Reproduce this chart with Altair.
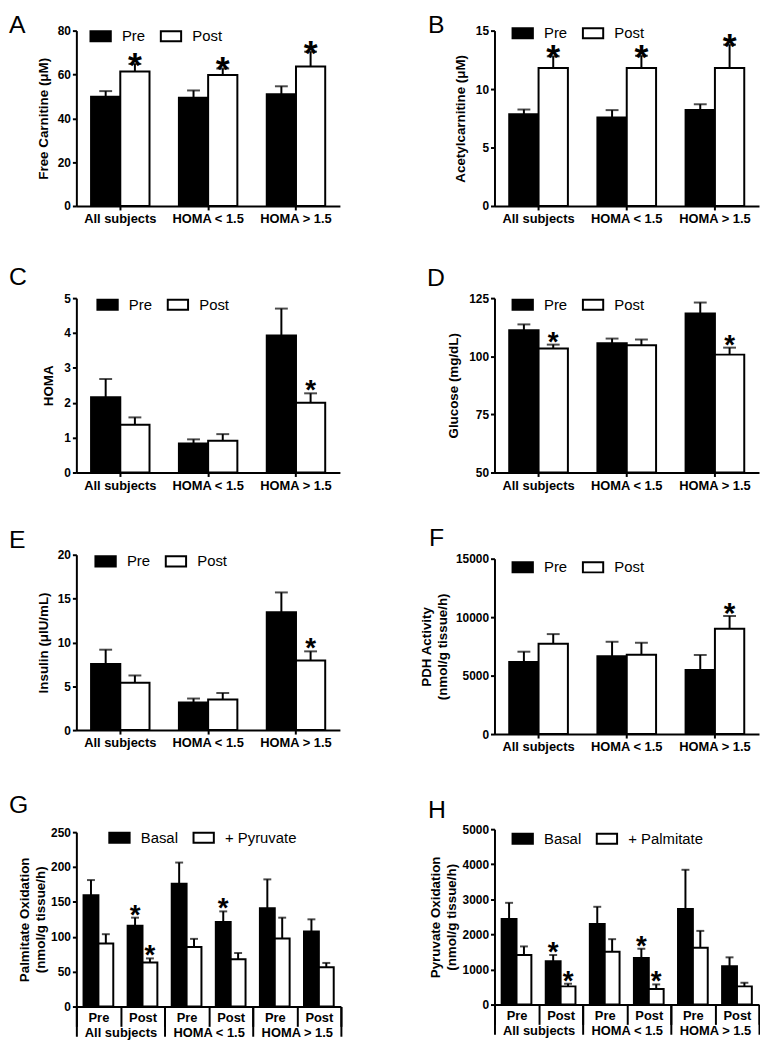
import altair as alt
import pandas as pd

FONT = "Liberation Sans"

GROUPS = ["All subjects", "HOMA < 1.5", "HOMA > 1.5"]
PREPOST = ["Pre", "Post"]

# A: Free carnitine (uM)
carn_pre = [49.8, 49.4, 51.0]
carn_pre_sem = [2.6, 3.3, 3.6]
carn_post = [61.3, 59.7, 63.6]
carn_post_sem = [3.5, 3.0, 6.8]
carn_sig = ["*", "*", "*"]

# B: Acetylcarnitine (uM)
acet_pre = [7.85, 7.57, 8.2]
acet_pre_sem = [0.4, 0.63, 0.5]
acet_post = [11.8, 11.8, 11.8]
acet_post_sem = [1.0, 1.05, 2.0]
acet_sig = ["*", "*", "*"]

# C: HOMA
homa_pre = [2.16, 0.83, 3.93]
homa_pre_sem = [0.52, 0.12, 0.77]
homa_post = [1.37, 0.91, 2.0]
homa_post_sem = [0.21, 0.19, 0.27]
homa_sig = ["", "", "*"]

# D: Glucose (mg/dL)
glu_pre = [111.2, 105.6, 118.4]
glu_pre_sem = [2.5, 2.0, 4.7]
glu_post = [103.3, 104.7, 100.7]
glu_post_sem = [1.7, 2.5, 3.0]
glu_sig = ["*", "", "*"]

# E: Insulin (uIU/mL)
ins_pre = [7.55, 3.14, 13.44]
ins_pre_sem = [1.62, 0.46, 2.26]
ins_post = [5.4, 3.48, 7.93]
ins_post_sem = [0.83, 0.75, 1.05]
ins_sig = ["", "", "*"]

# F: PDH activity
pdh_pre = [6170, 6655, 5490]
pdh_pre_sem = [875, 1240, 1275]
pdh_post = [7725, 6790, 9000]
pdh_post_sem = [825, 1020, 1100]
pdh_sig = ["", "", "*"]

# G: Palmitate oxidation (All Pre, All Post, <1.5 Pre, <1.5 Post, >1.5 Pre, >1.5 Post)
palm_basal = [159.6, 116.0, 176.0, 121.2, 141.0, 107.5]
palm_basal_sem = [21.7, 11.4, 30.4, 15.2, 41.3, 17.5]
palm_basal_sig = ["", "*", "", "*", "", ""]
palm_pyr = [90.4, 63.0, 85.2, 67.7, 97.5, 56.3]
palm_pyr_sem = [13.3, 6.0, 11.8, 9.0, 29.9, 6.2]
palm_pyr_sig = ["", "*", "", "", "", ""]

# H: Pyruvate oxidation
pyr_basal = [2439, 1233, 2298, 1328, 2721, 1092]
pyr_basal_sem = [461, 179, 489, 263, 1121, 254]
pyr_basal_sig = ["", "*", "", "*", "", ""]
pyr_palm = [1412, 518, 1507, 443, 1620, 518]
pyr_palm_sem = [245, 75, 357, 131, 480, 103]
pyr_palm_sig = ["", "*", "", "*", "", ""]

CATS6 = [f"{g}|{p}" for g in GROUPS for p in PREPOST]


def simple_df(pre, pre_sem, post, post_sem, sig):
    rows = []
    for i, g in enumerate(GROUPS):
        rows.append(dict(cat=g, series="Pre", mean=pre[i], upper=pre[i] + pre_sem[i], sig=""))
        rows.append(dict(cat=g, series="Post", mean=post[i], upper=post[i] + post_sem[i], sig=sig[i]))
    return pd.DataFrame(rows)


def two_df(s1, v1, e1, g1, s2, v2, e2, g2):
    rows = []
    for i, c in enumerate(CATS6):
        rows.append(dict(cat=c, series=s1, mean=v1[i], upper=v1[i] + e1[i], sig=g1[i]))
        rows.append(dict(cat=c, series=s2, mean=v2[i], upper=v2[i] + e2[i], sig=g2[i]))
    return pd.DataFrame(rows)


def spacer(x, y):
    return alt.Chart(pd.DataFrame({"t": ["."]})).mark_text(
        fontSize=1, opacity=0, x=x, y=y).encode(text="t:N")


def panel(df, cats, series, letter, lxy, ytitle, ydom, yvals, tpad, leg_xy,
          star_size, star_dy, cap, xoff_pad, space, two_level=False, W=266, H=177):
    xscale = alt.Scale(domain=cats, paddingInner=0, paddingOuter=0)
    if two_level:
        xaxis = alt.Axis(title=None, orient="bottom", labelAngle=0,
                         labelExpr="split(datum.label, '|')[1]",
                         tickBand="extent", tickSize=20, labelPadding=-15,
                         labelFontSize=13)
    else:
        xaxis = alt.Axis(title=None, orient="bottom", labelAngle=0, tickSize=4, labelPadding=3,
                         labelFontSize=13)
    X = alt.X("cat:N", scale=xscale, axis=xaxis, sort=cats)
    XO = alt.XOffset("series:N", sort=series,
                     scale=alt.Scale(domain=series, paddingInner=0, paddingOuter=xoff_pad))
    yscale = alt.Scale(domain=ydom, nice=False, zero=False)
    yaxis = alt.Axis(title=ytitle, values=yvals, format="d", titlePadding=tpad,
                     grid=False, tickSize=4, titleLineHeight=16)

    def Y(field):
        return alt.Y(field, scale=yscale, axis=yaxis)

    base = alt.Chart(df)
    err = base.mark_rule(color="black", strokeWidth=2).encode(
        x=X, xOffset=XO, y=Y("mean:Q"), y2="upper:Q")
    bars = base.mark_bar(stroke="black", strokeWidth=2).encode(
        x=X, xOffset=XO, y=Y("mean:Q"), y2=alt.datum(ydom[0]),
        fill=alt.Fill("series:N", sort=series,
                      scale=alt.Scale(domain=series, range=["black", "white"]),
                      legend=alt.Legend(orient="none", legendX=leg_xy[0], legendY=leg_xy[1],
                                        direction="horizontal", title=None,
                                        symbolType="M-1,-0.5H1V0.5H-1Z", symbolSize=420,
                                        symbolStrokeColor="black", symbolStrokeWidth=2,
                                        labelFont=FONT, labelFontSize=15, labelOffset=10,
                                        columnPadding=11, padding=0, labelColor="black")))
    caps = base.mark_tick(color="black", thickness=2, size=cap).encode(
        x=X, xOffset=XO, y=Y("upper:Q"))
    stars = base.mark_text(fontSize=star_size, fontWeight="bold", baseline="alphabetic",
                           dy=star_dy, font=FONT, color="black").encode(
        x=X, xOffset=XO, y=Y("upper:Q"), text="sig:N")
    data_layers = alt.layer(err, bars, caps, stars)
    lab = alt.Chart(pd.DataFrame({"t": [letter]})).mark_text(
        align="left", baseline="alphabetic", fontSize=25, font=FONT, color="black",
        x=lxy[0], y=lxy[1]).encode(text="t:N")
    # invisible anchors fixing the panel's bounding box (layout only)
    sp = [spacer(space[0], -space[1]), spacer(space[2], H + space[3])]
    layers = [data_layers, lab] + sp
    if two_level:
        glayer = alt.Chart(pd.DataFrame({"grp": GROUPS})).mark_text(text=" ", opacity=0).encode(
            x=alt.X("grp:N", sort=GROUPS,
                    scale=alt.Scale(domain=GROUPS, paddingInner=0, paddingOuter=0),
                    axis=alt.Axis(orient="bottom", title=None, domain=False, tickBand="extent",
                                  tickSize=30, labelPadding=-10, labelAngle=0,
                                  labelFontSize=13)))
        layers.append(glayer)
        ch = alt.layer(*layers).resolve_scale(x="independent")
    else:
        ch = alt.layer(*layers)
    return ch.properties(width=W, height=H)


# space = (left x, top margin, right x, bottom margin)
pA = panel(simple_df(carn_pre, carn_pre_sem, carn_post, carn_post_sem, carn_sig), GROUPS, PREPOST,
           "A", (-68, 2), "Free  Carnitine (\u03bcM)", [0, 80], [0, 20, 40, 60, 80], 7, (13, -6),
           36, 13, 13, 0.503, (-68, 17, 270, 52))
pB = panel(simple_df(acet_pre, acet_pre_sem, acet_post, acet_post_sem, acet_sig), GROUPS, PREPOST,
           "B", (-67, 2), "Acetylcarnitine (\u03bcM)", [0, 15], [0, 5, 10, 15], 8, (17, -9),
           36, 13, 13, 0.503, (-90, 17, 0, 52), W=267)
pC = panel(simple_df(homa_pre, homa_pre_sem, homa_post, homa_post_sem, homa_sig), GROUPS, PREPOST,
           "C", (-68, -13), "HOMA", [0, 5], [0, 1, 2, 3, 4, 5], 8, (20, -5),
           28, 6, 13, 0.503, (-68, 40, 270, 42), H=176)
pD = panel(simple_df(glu_pre, glu_pre_sem, glu_post, glu_post_sem, glu_sig), GROUPS, PREPOST,
           "D", (-68, -12.5), "Glucose (mg/dL)", [50, 125], [50, 75, 100, 125], 8, (17, -5),
           28, 6, 13, 0.503, (-90, 40, 0, 46), W=267, H=176)
pE = panel(simple_df(ins_pre, ins_pre_sem, ins_post, ins_post_sem, ins_sig), GROUPS, PREPOST,
           "E", (-68, -7), "Insulin (\u03bcIU/mL)", [0, 20], [0, 5, 10, 15, 20], 7, (18, -5),
           28, 6, 13, 0.503, (-68, 40, 270, 62))
pF = panel(simple_df(pdh_pre, pdh_pre_sem, pdh_post, pdh_post_sem, pdh_sig), GROUPS, PREPOST,
           "F", (-66, -13), ["PDH Activity", "(nmol/g tissue/h)"], [0, 15000],
           [0, 5000, 10000, 15000], 6, (17, -3), 30, 7, 13, 0.503, (-90, 40, 0, 55), W=267)
pG = panel(two_df("Basal", palm_basal, palm_basal_sem, palm_basal_sig,
                  "+ Pyruvate", palm_pyr, palm_pyr_sem, palm_pyr_sig), CATS6, ["Basal", "+ Pyruvate"],
           "G", (-68, -19), ["Palmitate Oxidation", "(nmol/g tissue/h)"], [0, 250],
           [0, 50, 100, 150, 200, 250], 3, (32, -6), 28, 6, 8, 0.483, (-68, 40, 270, 10),
           two_level=True, W=267, H=176)
pH = panel(two_df("Basal", pyr_basal, pyr_basal_sem, pyr_basal_sig,
                  "+ Palmitate", pyr_palm, pyr_palm_sem, pyr_palm_sig), CATS6, ["Basal", "+ Palmitate"],
           "H", (-67, -11.5), ["Pyruvate Oxidation", "(nmol/g tissue/h)"], [0, 5000],
           [0, 1000, 2000, 3000, 4000, 5000], 4, (17, -2), 28, 6, 8, 0.483, (-90, 40, 0, 10),
           two_level=True, W=267)

RES = dict(x="independent", y="independent", xOffset="independent", fill="independent")

left = alt.vconcat(pA, pC, pE, pG, spacing=0).resolve_scale(**RES).resolve_legend(fill="independent")
right = alt.vconcat(pB, pD, pF, pH, spacing=0).resolve_scale(**RES).resolve_legend(fill="independent")

chart = alt.hconcat(left, right, spacing=60).resolve_scale(**RES).resolve_legend(fill="independent")

chart = chart.properties(padding=0).configure_axis(
    labelFont=FONT, titleFont=FONT, labelFontWeight="bold", titleFontWeight="bold",
    labelColor="black", titleColor="black", domainColor="black", tickColor="black",
    domainWidth=2, tickWidth=2, labelFontSize=12, titleFontSize=13.5, grid=False
).configure_view(strokeWidth=0).configure_legend(labelFontWeight="normal")

chart.save("out.html", embed_options={"renderer": "svg", "actions": False})
